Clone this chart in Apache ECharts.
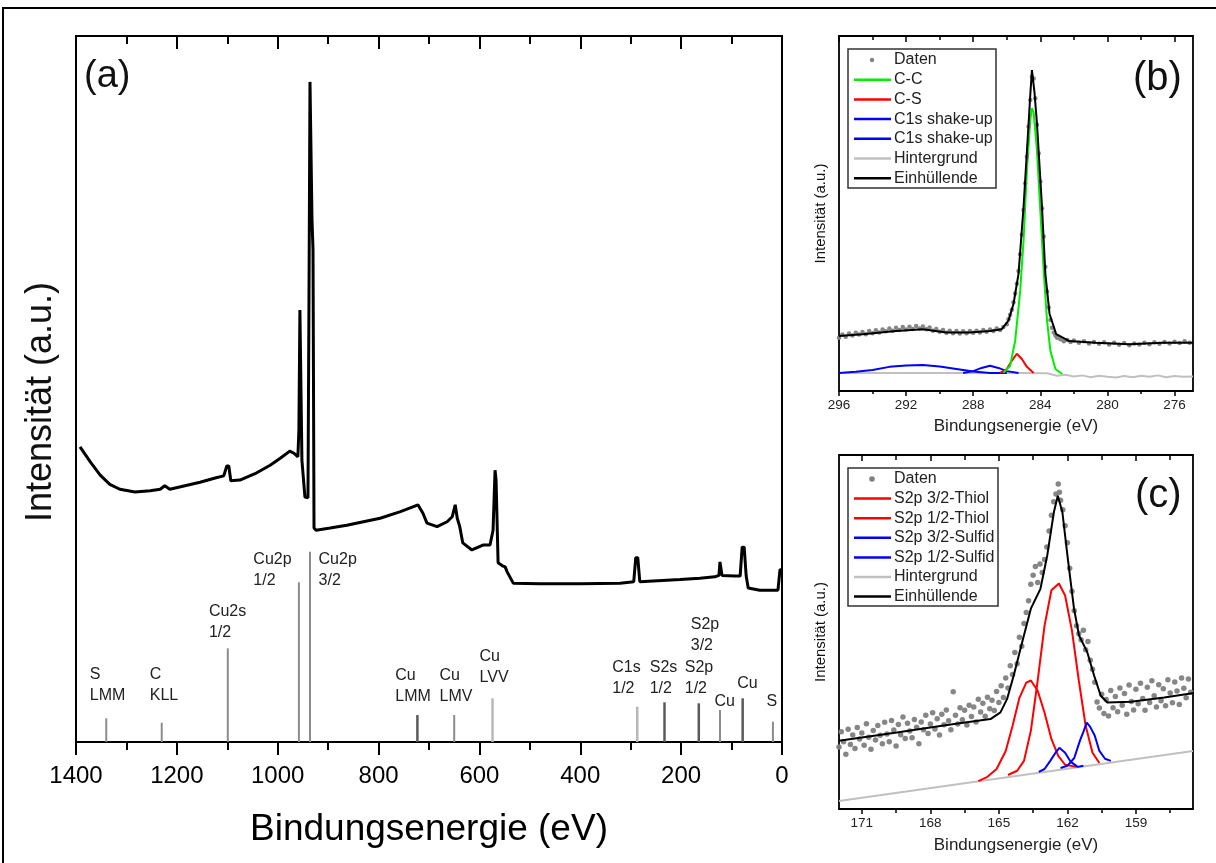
<!DOCTYPE html>
<html><head><meta charset="utf-8">
<script src="https://cdn.jsdelivr.net/npm/echarts@6/dist/echarts.min.js"></script>
<style>html,body{margin:0;padding:0;background:#fff}#chart{width:1216px;height:863px}</style>
</head><body><div id="chart"></div>
<script>
// ---------- DATA ----------
// (a) survey spectrum [binding energy eV, intensity a.u.]
const surveySpectrum = [
 [1392,41.8],[1372,39.7],[1352,37.8],[1333,36.5],[1313,35.8],[1283,35.4],[1253,35.6],[1233,35.8],[1224,36.3],[1214,35.8],
 [1184,36.3],[1154,36.8],[1124,37.4],[1107,37.7],[1101,39.1],[1097,39.1],[1093,37.0],[1075,37.1],[1045,38.0],[1015,39.2],
 [995,40.2],[976,41.2],[968,40.9],[960,40.4],[958,44.2],[956,61.2],[954,61.2],[952,39.9],[946,34.7],[940,34.6],
 [938,62.6],[936,93.5],[934,93.5],[932,73.9],[930,69.7],[928,30.3],[924,30.0],[896,30.3],[863,30.7],[797,31.7],
 [758,32.6],[732,33.3],[722,33.6],[712,32.4],[704,31.0],[684,30.5],[664,31.2],[654,31.9],[648,33.6],[644,31.7],
 [639,30.5],[633,28.2],[615,27.2],[593,27.9],[579,27.9],[573,30.0],[569,38.5],[567,37.1],[563,25.4],[553,24.9],
 [549,24.8],[545,24.1],[533,22.5],[480,22.4],[400,22.4],[321,22.5],[294,22.7],[290,26.1],[286,26.1],[282,22.7],
 [202,23.0],[163,23.2],[133,23.4],[125,23.6],[123,25.5],[119,23.6],[93,23.5],[83,23.5],[79,27.6],[75,27.6],
 [71,23.5],[67,21.8],[44,21.5],[8,21.5],[4,24.4],[0,24.4]
];
// (a) reference line positions and heights
const refLineEV     = [1340,1230,1099,958,936,723,650,574,287,233,165,123,78,18];
const refLineHeight = [3.36,2.73,13.27,22.62,26.95,3.82,3.82,6.19,5.01,5.62,5.48,4.53,6.19,2.88];
const refLineTone   = ['mid','mid','mid','mid','mid','dark','mid','light','light','dark','dark','mid','dark','mid'];
// (a) reference labels
const refLabels     = ['S\nLMM','C\nKLL','Cu2s\n1/2','Cu2p\n1/2','Cu2p\n3/2','Cu\nLMM','Cu\nLMV','Cu\nLVV','C1s\n1/2','S2s\n1/2','S2p\n3/2','S2p\n1/2','Cu','Cu','S'];
const refLabelEV    = [1337.5,1225.5,1099.4,972.5,919,731.7,646.5,571,308.4,235,152.7,164.6,113.8,68.4,20];
const refLabelLevel = [9.49,9.49,18.46,25.88,25.88,9.39,9.39,12.08,10.52,10.52,16.67,10.52,5.71,8.31,5.71];
const refLabelAlign = ['center','center','center','right','left','center','center','center','center','center','center','center','center','center','center'];

// (b) C1s
const c1sData = [
 [296.0,15.0],[295.8,15.9],[295.6,15.3],[295.4,16.2],[295.2,15.6],[295.0,16.4],[294.8,15.9],[294.6,16.6],[294.4,16.0],[294.2,16.9],
 [294.0,16.3],[293.8,17.1],[293.6,16.5],[293.4,17.3],[293.2,16.8],[293.0,17.6],[292.8,17.0],[292.6,17.8],[292.4,17.2],[292.2,18.0],
 [292.0,17.3],[291.8,18.1],[291.6,17.5],[291.4,18.3],[291.2,17.6],[291.0,18.2],[290.8,17.4],[290.6,17.9],[290.4,17.0],[290.2,17.5],
 [290.0,16.7],[289.8,17.2],[289.6,16.4],[289.4,17.0],[289.2,16.3],[289.0,16.9],[288.8,16.2],[288.6,16.8],[288.4,16.3],[288.2,16.9],
 [288.0,16.4],[287.8,17.0],[287.6,16.5],[287.4,17.2],[287.2,16.7],[287.0,17.3],[286.8,16.9],[286.6,17.6],[286.4,17.2],[286.2,18.0],
 [286.0,18.8],[285.9,20.2],[285.8,21.5],[285.7,22.9],[285.6,25.0],[285.5,27.5],[285.4,30.2],[285.3,33.8],[285.2,38.5],[285.1,44.0],
 [285.0,51.0],[284.9,58.5],[284.8,66.0],[284.7,74.5],[284.6,82.0],[284.5,88.5],[284.4,88.0],[284.3,82.5],[284.2,75.0],[284.1,67.0],
 [284.0,59.0],[283.9,51.5],[283.8,43.5],[283.7,35.0],[283.6,28.0],[283.5,23.5],[283.4,20.0],[283.3,17.8],[283.2,16.5],[283.1,15.6],
 [283.0,15.0],[282.8,14.6],[282.6,14.0],[282.4,14.4],[282.2,13.8],[282.0,14.2],[281.7,13.6],[281.4,14.0],[281.1,13.4],[280.8,13.8],
 [280.5,13.3],[280.2,13.7],[279.9,13.1],[279.6,13.6],[279.3,13.0],[279.0,13.5],[278.7,12.9],[278.4,13.4],[278.1,13.1],[277.8,13.6],
 [277.5,13.2],[277.2,13.7],[276.9,13.3],[276.6,13.8],[276.3,13.4],[276.0,13.9],[275.7,13.5],[275.4,14.0],[275.1,13.6]
];
const c1sCC = [[286.2,5.1],[285.8,7.1],[285.5,14.1],[285.2,28.2],[285.0,42.4],[284.8,62.1],[284.6,76.3],[284.5,79.7],[284.4,78.5],[284.2,67.8],[284.0,50.8],[283.8,33.9],[283.6,19.8],[283.4,11.3],[283.1,6.2],[282.7,4.8]];
const c1sCS = [[286.4,5.1],[286.0,6.2],[285.7,8.5],[285.4,10.5],[285.1,9.0],[284.8,6.8],[284.4,5.1]];
const c1sShake1 = [[296,5.1],[295,5.4],[294,5.9],[293,6.8],[292,7.2],[291,7.3],[290,6.9],[289,6.2],[288,5.5],[287,5.1],[286.0,5.1]];
const c1sShake2 = [[288.6,5.1],[288,5.6],[287.5,6.5],[287,7.1],[286.5,6.5],[286,5.6],[285.3,5.1]];
const c1sBackground = [[296,5.1],[290,5.1],[285,5.1],[283.6,5.0],[283.0,4.3],[282.5,4.6],[282,4.1],[281.5,4.4],[281,3.9],[280.5,4.3],[280,4.0],[279.5,3.8],[279,4.2],[278.5,3.9],[278,4.3],[277.5,4.0],[277,4.4],[276.5,3.9],[276,4.2],[275.5,4.0],[274.9,4.1]];
const c1sEnvelope = [[296,15.5],[294.6,16.0],[292.6,16.9],[291,17.4],[289.6,16.5],[288.2,16.5],[287,16.9],[286.3,17.4],[285.9,19.8],[285.6,24.5],[285.3,33.0],[285.15,42.4],[285.0,51.8],[284.85,63.6],[284.7,75.3],[284.6,83.3],[284.5,90.4],[284.35,84.2],[284.2,75.3],[284.05,63.6],[283.9,51.8],[283.8,42.4],[283.7,33.0],[283.45,21.7],[283.05,16.0],[282.3,14.1],[280.7,13.6],[278.7,13.2],[276.7,13.6],[274.9,13.6]];

// (c) S2p
const s2pData = [
 [172.0,17.5],[171.9,21.8],[171.8,19.0],[171.7,15.5],[171.6,22.5],[171.5,18.2],[171.4,20.9],[171.3,17.1],[171.2,23.0],[171.1,19.8],
 [171.0,21.5],[170.9,18.0],[170.8,24.1],[170.7,20.3],[170.6,16.9],[170.5,22.2],[170.4,19.5],[170.3,23.6],[170.2,20.8],[170.1,18.4],
 [170.0,24.5],[169.9,21.2],[169.8,19.0],[169.7,25.0],[169.6,22.3],[169.5,17.8],[169.4,23.9],[169.3,21.0],[169.2,26.0],[169.1,19.9],
 [169.0,24.2],[168.9,22.0],[168.8,20.1],[168.7,25.3],[168.6,23.1],[168.5,18.4],[168.4,24.6],[168.3,22.4],[168.2,26.5],[168.1,21.3],
 [168.0,24.0],[167.9,27.2],[167.8,22.6],[167.7,25.5],[167.6,20.9],[167.5,26.8],[167.4,23.8],[167.3,28.0],[167.2,24.9],[167.1,22.4],
 [167.0,33.1],[166.9,26.5],[166.8,24.0],[166.7,28.6],[166.6,25.2],[166.5,27.9],[166.4,23.7],[166.3,29.3],[166.2,26.1],[166.1,28.8],
 [166.0,24.6],[165.9,31.0],[165.8,27.4],[165.7,29.9],[165.6,26.2],[165.5,31.6],[165.4,28.3],[165.3,30.7],[165.2,27.8],[165.1,33.2],
 [165.0,30.1],[164.9,34.8],[164.8,31.5],[164.7,37.0],[164.6,34.2],[164.5,40.5],[164.4,38.0],[164.3,44.2],[164.2,41.0],[164.1,48.5],
 [164.0,46.0],[163.9,52.4],[163.8,55.5],[163.7,58.8],[163.6,63.5],[163.5,66.0],[163.4,68.5],[163.3,64.0],[163.2,69.2],[163.1,66.8],
 [163.0,70.5],[162.9,74.0],[162.8,78.5],[162.7,83.0],[162.6,86.8],[162.5,89.0],[162.4,91.8],[162.35,89.5],[162.3,87.2],[162.2,84.5],
 [162.1,80.0],[162.0,75.2],[161.9,68.0],[161.8,61.5],[161.7,56.0],[161.6,51.8],[161.5,49.5],[161.4,47.8],[161.3,50.5],[161.2,45.0],
 [161.1,47.3],[161.0,42.0],[160.9,39.5],[160.8,35.8],[160.7,30.2],[160.6,28.5],[160.5,32.4],[160.4,27.0],[160.3,30.9],[160.2,26.3],
 [160.1,33.5],[160.0,28.6],[159.9,31.8],[159.8,27.5],[159.7,34.2],[159.6,29.3],[159.5,32.6],[159.4,26.8],[159.3,35.0],[159.2,30.4],
 [159.1,28.0],[159.0,33.8],[158.9,29.7],[158.8,35.5],[158.7,31.2],[158.6,27.9],[158.5,34.4],[158.4,30.1],[158.3,36.2],[158.2,32.0],
 [158.1,28.8],[158.0,35.1],[157.9,30.6],[157.8,34.0],[157.7,29.2],[157.6,36.5],[157.5,32.8],[157.4,30.0],[157.3,35.9],[157.2,33.3],
 [157.1,29.5],[157.0,37.0],[156.9,34.1],[156.8,31.4],[156.7,36.7],[156.6,33.0]
];
const s2p32Thiol = [[164.6,9.6],[164.2,10.8],[163.9,13.6],[163.6,22.1],[163.3,36.3],[163.0,51.8],[162.7,61.8],[162.37,63.7],[162.1,60.3],[161.8,50.4],[161.5,36.3],[161.2,23.5],[160.9,15.9],[160.6,13.0]];
const s2p12Thiol = [[165.9,7.9],[165.5,9.1],[165.1,11.3],[164.7,16.4],[164.4,23.5],[164.1,31.4],[163.8,35.7],[163.6,36.3],[163.3,33.4],[163.0,27.2],[162.7,19.8],[162.4,15.0],[162.1,12.5],[161.6,11.9]];
const s2p32Sulfid = [[162.3,11.6],[162.0,12.2],[161.7,14.4],[161.45,19.3],[161.3,21.8],[161.15,24.4],[161.0,23.2],[160.8,20.7],[160.6,16.4],[160.35,14.2],[160.1,13.6]];
const s2p12Sulfid = [[163.25,10.5],[163.0,11.3],[162.75,13.6],[162.5,16.1],[162.35,17.3],[162.1,15.9],[161.85,13.3],[161.55,11.9],[161.3,12.2]];
const s2pBackground = [[172,2.27],[156.5,16.4]];
const s2pEnvelope = [[172,19.3],[169.47,21.6],[167.27,23.7],[165.37,25.4],[164.93,27.3],[164.64,31.1],[164.35,37.7],[163.98,47.1],[163.6,56.6],[163.18,62.2],[162.88,71.7],[162.59,83.9],[162.42,88.5],[162.22,83.9],[162.0,71.7],[161.71,56.6],[161.49,49.0],[161.13,44.3],[160.83,37.7],[160.54,32.0],[160.25,30.1],[159.22,30.3],[157.76,31.5],[156.45,32.8]];

// tick values
const bTickMajor = [296,292,288,284,280,276];
const bTickMinor = [294,290,286,282,278];
const cTickMajor = [171,168,165,162,159];
const cTickMinor = [169.5,166.5,163.5,160.5,157.5];

// ---------- STYLE ----------
const FONT = '"Liberation Sans", Arial, Helvetica, sans-serif';
const GREEN = '#00ee00', RED = '#ff0000', BLUE = '#0000ff', BGGRAY = '#c0c0c0', DOT = '#808080';
const toneColor = {light:'#b8b8b8', mid:'#8c8c8c', dark:'#5a5a5a'};
const toneWidth = {light:2.5, mid:2, dark:2.5};
const plain = v => String(v);

const measureCtx = document.createElement('canvas').getContext('2d');
measureCtx.font = '16px ' + FONT;
function blockWidth(t){ return Math.max.apply(null, t.split('\n').map(s => measureCtx.measureText(s).width)); }

const GA = {left:76, top:36, width:706, height:706};
const GB = {left:839, top:36, width:354, height:355};
const GC = {left:839, top:455, width:354, height:354};

function hiddenY(gi, name, gap, size, pad){
  return {type:'value', gridIndex:gi, min:0, max:100, axisLine:{show:false}, axisTick:{show:false}, axisLabel:{show:false}, splitLine:{show:false},
    name:name, nameLocation:'middle', nameGap:gap, nameTextStyle:{fontFamily:FONT, fontSize:size, color:'#111', padding:pad||0}};
}
function xAx(gi, min, max, pos, opts){
  return Object.assign({type:'value', gridIndex:gi, min:min, max:max, inverse:true, position:pos,
    axisLine:{show:false}, splitLine:{show:false}, axisLabel:{show:false}}, opts);
}
const tickStyle = {color:'#000', width:2};
const tickStyleS = {color:'#000', width:1.5};

const xAxes = [
  // (a)
  xAx(0, 0, 1400, 'bottom', {interval:200,
     axisTick:{show:true, inside:false, length:13, lineStyle:tickStyle},
     minorTick:{show:true, splitNumber:2, length:8, lineStyle:tickStyle},
     axisLabel:{show:true, formatter:plain, fontFamily:FONT, fontSize:24, color:'#000', margin:22},
     name:'Bindungsenergie (eV)', nameLocation:'middle', nameGap:69, nameTextStyle:{fontFamily:FONT, fontSize:37, color:'#000'}}),
  xAx(0, 0, 1400, 'top', {interval:200,
     axisTick:{show:true, inside:true, length:13, lineStyle:tickStyle},
     minorTick:{show:true, splitNumber:2, length:8, lineStyle:tickStyle}}),
  // (b)
  xAx(1, 274.9, 296, 'bottom', {
     axisTick:{show:true, inside:false, length:5, customValues:bTickMajor, lineStyle:tickStyleS},
     axisLabel:{show:true, customValues:bTickMajor, formatter:plain, fontFamily:FONT, fontSize:13.5, color:'#222', margin:7},
     name:'Bindungsenergie (eV)', nameLocation:'middle', nameGap:27, nameTextStyle:{fontFamily:FONT, fontSize:17, color:'#222'}}),
  xAx(1, 274.9, 296, 'bottom', {axisTick:{show:true, inside:false, length:3, customValues:bTickMinor, lineStyle:tickStyleS}}),
  xAx(1, 274.9, 296, 'top', {axisTick:{show:true, inside:true, length:6, customValues:bTickMajor, lineStyle:tickStyleS}}),
  xAx(1, 274.9, 296, 'top', {axisTick:{show:true, inside:true, length:4, customValues:bTickMinor, lineStyle:tickStyleS}}),
  // (c)
  xAx(2, 156.5, 172, 'bottom', {
     axisTick:{show:true, inside:false, length:5, customValues:cTickMajor, lineStyle:tickStyleS},
     axisLabel:{show:true, customValues:cTickMajor, formatter:plain, fontFamily:FONT, fontSize:13.5, color:'#222', margin:7},
     name:'Bindungsenergie (eV)', nameLocation:'middle', nameGap:28, nameTextStyle:{fontFamily:FONT, fontSize:17, color:'#222'}}),
  xAx(2, 156.5, 172, 'bottom', {axisTick:{show:true, inside:false, length:4, customValues:cTickMinor, lineStyle:tickStyleS}}),
  xAx(2, 156.5, 172, 'top', {axisTick:{show:true, inside:true, length:6, customValues:cTickMajor, lineStyle:tickStyleS}}),
  xAx(2, 156.5, 172, 'top', {axisTick:{show:true, inside:true, length:5, customValues:cTickMinor, lineStyle:tickStyleS}})
];
const yAxes = [hiddenY(0,'Intensität (a.u.)',17,36,[0,26,0,0]), hiddenY(1,'Intensität (a.u.)',11,15), hiddenY(2,'Intensität (a.u.)',11,15)];

function lineS(name, data, xi, yi, color, width, z){
  return {type:'line', name:name, data:data, xAxisIndex:xi, yAxisIndex:yi, showSymbol:false, symbol:'none',
    lineStyle:{color:color, width:width}, itemStyle:{color:color}, z:z||2, silent:true, clip:true};
}
function dotS(name, data, xi, yi, size){
  return {type:'scatter', name:name, data:data, xAxisIndex:xi, yAxisIndex:yi, symbolSize:size, itemStyle:{color:DOT, opacity:0.95}, silent:true, z:2};
}

const series = [
  lineS('Survey', surveySpectrum, 0, 0, '#000', 3, 3),
  {type:'custom', xAxisIndex:0, yAxisIndex:0, silent:true, z:2,
   data: refLineEV.map((e,i)=>[e, refLineHeight[i]]),
   renderItem(params, api){
     const i = params.dataIndex, t = refLineTone[i];
     const p0 = api.coord([api.value(0), 0]), p1 = api.coord([api.value(0), api.value(1)]);
     return {type:'line', shape:{x1:p0[0], y1:p0[1], x2:p1[0], y2:p1[1]}, style:{stroke:toneColor[t], lineWidth:toneWidth[t]}};
   }},
  {type:'custom', xAxisIndex:0, yAxisIndex:0, silent:true, z:2,
   data: refLabelEV.map((e,i)=>[e, refLabelLevel[i]]),
   renderItem(params, api){
     const i = params.dataIndex, txt = refLabels[i], w = blockWidth(txt);
     const p = api.coord([api.value(0), api.value(1)]);
     let x = p[0] - w/2;
     if (refLabelAlign[i] === 'right') x = p[0] - w;
     if (refLabelAlign[i] === 'left') x = p[0];
     return {type:'text', x:x, y:p[1]-10.5, style:{text:txt, fill:'#222', font:'16px ' + FONT, align:'left', verticalAlign:'top', lineHeight:21}};
   }},
  // (b)
  lineS('Hintergrund', c1sBackground, 2, 1, BGGRAY, 2),
  lineS('C1s shake-up', c1sShake1, 2, 1, BLUE, 2),
  lineS('C1s shake-up ', c1sShake2, 2, 1, BLUE, 2),
  lineS('C-S', c1sCS, 2, 1, RED, 2),
  lineS('C-C', c1sCC, 2, 1, GREEN, 2),
  dotS('Daten', c1sData, 2, 1, 4.5),
  lineS('Einhüllende', c1sEnvelope, 2, 1, '#000', 2, 3),
  // (c)
  lineS('Hintergrund', s2pBackground, 6, 2, BGGRAY, 2),
  lineS('S2p 3/2-Thiol', s2p32Thiol, 6, 2, RED, 2),
  lineS('S2p 1/2-Thiol', s2p12Thiol, 6, 2, RED, 2),
  lineS('S2p 3/2-Sulfid', s2p32Sulfid, 6, 2, BLUE, 2),
  lineS('S2p 1/2-Sulfid', s2p12Sulfid, 6, 2, BLUE, 2),
  dotS('Daten', s2pData, 6, 2, 5.5),
  lineS('Einhüllende', s2pEnvelope, 6, 2, '#000', 2, 3)
];

// legends drawn as graphics
function legendGraphic(x, y, w, h, rowY0, rowStep, items, dotR){
  const els = [{type:'rect', shape:{x:x, y:y, width:w, height:h}, style:{fill:'#fff', stroke:'#333', lineWidth:1.5}, z:10}];
  items.forEach((it, k) => {
    const yy = rowY0 + k*rowStep;
    if (it.dot) els.push({type:'circle', shape:{cx:x+24, cy:yy, r:dotR}, style:{fill:DOT}, z:11});
    else els.push({type:'line', shape:{x1:x+6, y1:yy, x2:x+43, y2:yy}, style:{stroke:it.color, lineWidth:2.5}, z:11});
    els.push({type:'text', x:x+46, y:yy, style:{text:it.name, font:'16px ' + FONT, fill:'#222', align:'left', verticalAlign:'middle'}, z:11});
  });
  return els;
}
const legendB = legendGraphic(848, 49, 148, 139, 60, 19.7, [
  {name:'Daten', dot:true}, {name:'C-C', color:GREEN}, {name:'C-S', color:RED}, {name:'C1s shake-up', color:BLUE},
  {name:'C1s shake-up', color:BLUE}, {name:'Hintergrund', color:BGGRAY}, {name:'Einhüllende', color:'#000'}], 2.2);
const legendC = legendGraphic(848, 468, 150, 138, 479, 19.6, [
  {name:'Daten', dot:true}, {name:'S2p 3/2-Thiol', color:RED}, {name:'S2p 1/2-Thiol', color:RED}, {name:'S2p 3/2-Sulfid', color:BLUE},
  {name:'S2p 1/2-Sulfid', color:BLUE}, {name:'Hintergrund', color:BGGRAY}, {name:'Einhüllende', color:'#000'}], 2.8);

const chart = echarts.init(document.getElementById('chart'), null, {renderer:'canvas'});
chart.setOption({
  animation:false,
  backgroundColor:'#fff',
  grid:[
    Object.assign({show:true, borderColor:'#000', borderWidth:2, backgroundColor:'transparent'}, GA),
    Object.assign({show:true, borderColor:'#000', borderWidth:1.8, backgroundColor:'transparent'}, GB),
    Object.assign({show:true, borderColor:'#000', borderWidth:1.8, backgroundColor:'transparent'}, GC)
  ],
  xAxis:xAxes, yAxis:yAxes, series:series,
  graphic:[
    {type:'rect', shape:{x:3, y:8, width:1400, height:1000}, style:{fill:'none', stroke:'#000', lineWidth:2}, z:0, silent:true},
    {type:'text', x:84, y:77, style:{text:'(a)', font:'38px ' + FONT, fill:'#111', verticalAlign:'middle'}},
    {type:'text', x:1133, y:79, style:{text:'(b)', font:'40px ' + FONT, fill:'#111', verticalAlign:'middle'}},
    {type:'text', x:1135, y:496, style:{text:'(c)', font:'40px ' + FONT, fill:'#111', verticalAlign:'middle'}}
  ].concat(legendB, legendC)
});
</script></body></html>
